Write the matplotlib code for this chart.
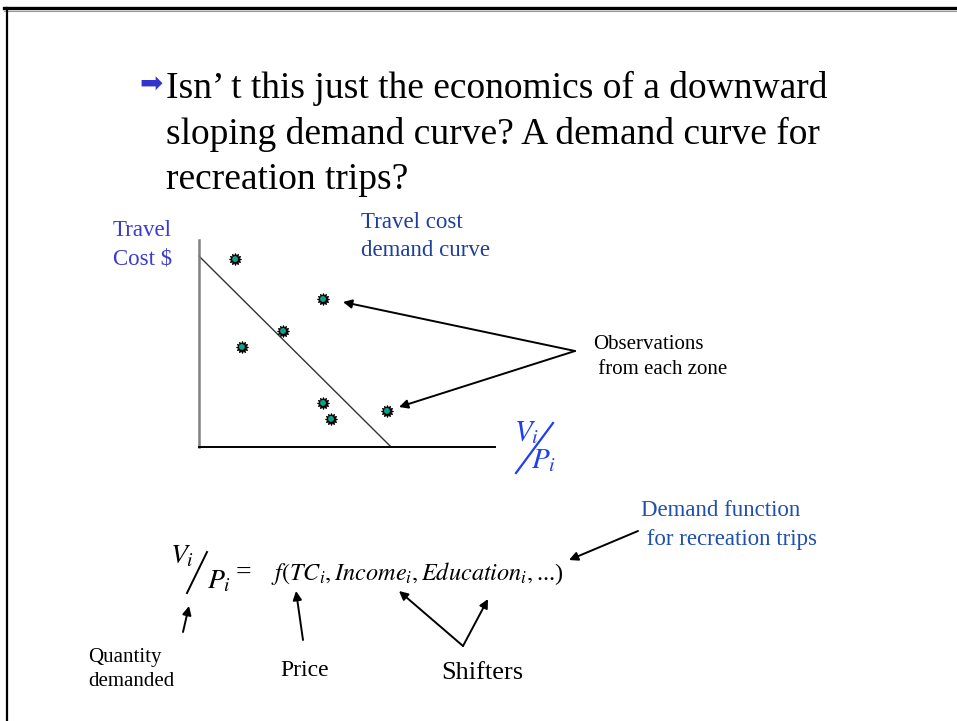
import matplotlib
matplotlib.use("Agg")
import matplotlib.pyplot as plt
from matplotlib.lines import Line2D

plt.rcParams["mathtext.fontset"] = "stix"
SERIF = ["Liberation Serif", "DejaVu Serif"]

# ── data: zone observations (quantity V/P, travel cost) and fitted demand line ──
obs_qty  = [1.22, 4.19, 2.84, 1.45, 4.19, 4.46, 6.35]
obs_cost = [6.35, 5.00, 3.92, 3.38, 1.49, 0.95, 1.22]
demand_qty  = [0.0, 6.49]
demand_cost = [6.45, 0.0]

W, H = 957, 721
fig = plt.figure(figsize=(W / 100, H / 100), dpi=100)
fig.patch.set_facecolor("white")

# overlay in pixel coordinates for slide text and callouts
ov = fig.add_axes([0, 0, 1, 1])
ov.set_xlim(0, W)
ov.set_ylim(H, 0)
ov.axis("off")

# slide border (top + left)
ov.add_line(Line2D([4, W], [8, 8], color="black", lw=2.4))
ov.add_line(Line2D([4, W], [10.5, 10.5], color="#999999", lw=0.8))
ov.add_line(Line2D([7, 7], [8, H], color="black", lw=1.6))

# ── title bullet ──
ov.text(139, 84, "\u27a1", color="#3333cc", fontsize=20, family="DejaVu Sans",
        va="center", ha="left")
title_lines = ["Isn\u2019 t this just the economics of a downward",
               "sloping demand curve? A demand curve for",
               "recreation trips?"]
for i, line in enumerate(title_lines):
    ov.text(166, 98 + i * 45.5, line, fontsize=27, family=SERIF, va="baseline")

# ── demand chart ──
x0, y0, x1, y1 = 199, 447, 495, 239.8
ax = fig.add_axes([x0 / W, 1 - y0 / H, (x1 - x0) / W, (y0 - y1) / H])
ax.set_xlim(0, 10)
ax.set_ylim(0, 7)
ax.patch.set_alpha(0)
for s in ["top", "right"]:
    ax.spines[s].set_visible(False)
ax.spines["left"].set_color("#808080")
ax.spines["left"].set_linewidth(1.8)
ax.spines["bottom"].set_color("black")
ax.spines["bottom"].set_linewidth(1.4)
ax.set_xticks([])
ax.set_yticks([])

ax.plot(demand_qty, demand_cost, color="#333333", lw=1.0, clip_on=False)
ax.scatter(obs_qty, obs_cost, marker=(12, 1, 0), s=65, color="black", zorder=3)
ax.scatter(obs_qty, obs_cost, marker="o", s=18, color="#10a08a", zorder=4,
           edgecolors="none")

# axis labels
ov.text(113, 236, "Travel", color="#3a3ad6", fontsize=16.5, family=SERIF, va="baseline")
ov.text(113, 265, "Cost $", color="#3a3ad6", fontsize=16.5, family=SERIF, va="baseline")
ov.text(361, 228, "Travel cost", color="#1f3f9f", fontsize=16.5, family=SERIF, va="baseline")
ov.text(361, 256, "demand curve", color="#1f3f9f", fontsize=16.5, family=SERIF, va="baseline")

VP_BLUE = "#1f3ff0"
ov.text(514, 440, r"$V_i$", color=VP_BLUE, fontsize=21, va="baseline")
ov.add_line(Line2D([516, 553], [473, 423], color=VP_BLUE, lw=1.6))
ov.text(531, 468, r"$P_i$", color=VP_BLUE, fontsize=21, va="baseline")

# observations callout
ov.text(593, 349, "Observations", fontsize=15, family=SERIF, va="baseline")
ov.text(593, 374, " from each zone", fontsize=15, family=SERIF, va="baseline")
arrow = dict(arrowstyle="-|>", color="black", lw=1.4, mutation_scale=13,
             shrinkA=0, shrinkB=0)
ov.annotate("", xy=(343, 302), xytext=(575, 351), arrowprops=arrow)
ov.annotate("", xy=(399, 407), xytext=(575, 351), arrowprops=arrow)

# ── demand function ──
ov.text(641, 516, "Demand function", color="#1f4faf", fontsize=16.5, family=SERIF,
        va="baseline")
ov.text(641, 545, " for recreation trips", color="#1f4faf", fontsize=16.5, family=SERIF,
        va="baseline")
ov.annotate("", xy=(569, 560), xytext=(638, 531), arrowprops=arrow)

ov.text(170, 563, r"$V_i$", fontsize=20, va="baseline")
ov.add_line(Line2D([187, 207], [593, 552], color="black", lw=1.4))
ov.text(207, 588, r"$P_i$", fontsize=20, va="baseline")
ov.text(236, 580, "=", fontsize=20, family=SERIF, va="baseline")
ov.text(271, 580, r"$f(TC_i, Income_i, Education_i,$...)", fontsize=17.5,
        family=SERIF, va="baseline")

# labels under the formula
ov.text(88, 662, "Quantity", fontsize=15, family=SERIF, va="baseline")
ov.text(88, 686, "demanded", fontsize=15, family=SERIF, va="baseline")
ov.annotate("", xy=(189, 606), xytext=(183, 632), arrowprops=arrow)

ov.text(280, 676, "Price", fontsize=17, family=SERIF, va="baseline")
ov.annotate("", xy=(296, 591), xytext=(303, 640), arrowprops=arrow)

ov.text(441, 679, "Shifters", fontsize=19, family=SERIF, va="baseline")
ov.annotate("", xy=(399, 591), xytext=(463, 646), arrowprops=arrow)
ov.annotate("", xy=(488, 599), xytext=(463, 646), arrowprops=arrow)

fig.savefig("out.png", dpi=100)
